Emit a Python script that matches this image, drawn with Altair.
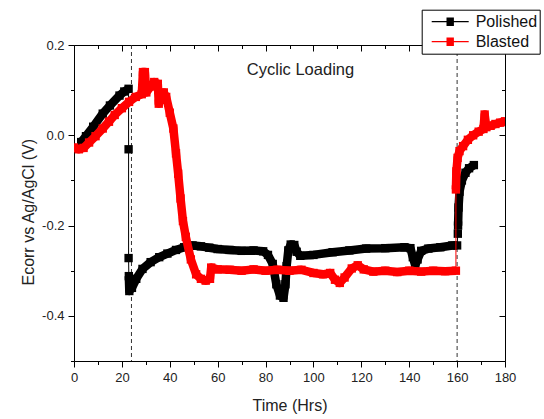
import altair as alt
import pandas as pd

FONT = "Liberation Sans"

# ---------------- data ----------------
series_names = ["Polished", "Blasted"]
series_colors = ["#000000", "#ff0000"]

polished_t = [3, 5, 8, 12, 15, 19, 21, 22.8,
              22.8,
              22.8,
              22.9, 23.1, 24.2, 26, 28.6, 32, 35.6, 39, 42.6, 46, 49.5, 53, 56.5, 60, 65, 70, 75, 79,
              81, 83, 84.5, 86, 87.5, 88.3, 88.8, 89.5, 90.5, 92, 93, 94.5, 100, 108, 115, 122, 130,
              138, 140.5, 141.5, 142.5, 143.5, 145, 148, 153, 158, 160,
              160.3,
              160.4, 160.6, 161, 162, 163.5, 165, 167]
polished_v = [-0.015, -0.002, 0.019, 0.048, 0.066, 0.088, 0.097, 0.103,
              -0.031,
              -0.272,
              -0.312, -0.345, -0.338, -0.318, -0.296, -0.281, -0.27, -0.262, -0.254, -0.248, -0.244,
              -0.246, -0.249, -0.252, -0.254, -0.256, -0.255, -0.257,
              -0.265, -0.285, -0.33, -0.355, -0.36, -0.33, -0.29, -0.255, -0.242, -0.243, -0.258,
              -0.267, -0.265, -0.259, -0.255, -0.251, -0.25,
              -0.248, -0.25, -0.27, -0.288, -0.275, -0.256, -0.251, -0.248, -0.244, -0.244,
              -0.218,
              -0.2, -0.16, -0.125, -0.1, -0.083, -0.073, -0.066]
polished_seg = [0] * 8 + [1] + [2] + [3] * 45 + [4] + [5] * 7

blasted_t = [0, 2, 4, 6.3, 9, 12, 14.6, 17, 20, 23, 25.8, 28.3, 28.8, 29.6, 30.2, 32, 33.5, 35,
             35.4, 36.3, 37.5, 38.5, 40, 41.5, 42.6, 43.5, 44.5, 45.5, 46.7, 48.8, 51, 53, 55,
             56.8, 57.3, 60, 65, 70, 75, 80, 85, 90, 95, 100, 104, 107, 109, 111, 113, 116,
             118.5, 121, 125, 130, 135, 140, 145, 150, 155, 159.5,
             159.5, 159.7, 160.2, 161, 162.5, 164.5, 166.7, 169, 171, 171.5, 172.2, 174, 176,
             178, 180]
blasted_v = [-0.027, -0.031, -0.028, -0.016, -0.002, 0.015, 0.03, 0.045, 0.06, 0.074, 0.085,
             0.091, 0.14, 0.14, 0.095, 0.108, 0.118, 0.114,
             0.07, 0.08, 0.095, 0.085, 0.05, 0.015, -0.04, -0.085, -0.14, -0.19, -0.225, -0.275,
             -0.308, -0.318, -0.322,
             -0.318, -0.293, -0.297, -0.298, -0.3, -0.297, -0.3, -0.298, -0.3, -0.298, -0.305,
             -0.308, -0.305, -0.32, -0.327, -0.315, -0.295,
             -0.288, -0.297, -0.302, -0.3, -0.303, -0.3, -0.302, -0.3, -0.301, -0.3,
             -0.12, -0.08, -0.05, -0.035, -0.024, -0.01, 0.0, 0.008, 0.014, 0.046, 0.018, 0.021,
             0.025, 0.028, 0.031]
blasted_seg = [0] * 60 + [1] * 15

event_times = [24, 160]

annotation_text = ["Cyclic Loading"]
annotation_t = [94.6]
annotation_v = [0.145]

x_ticks = list(range(0, 181, 10))
y_ticks = [-0.5, -0.4, -0.3, -0.2, -0.1, 0.0, 0.1, 0.2]


def frame(name, t, v, seg):
    return pd.DataFrame({"series": name, "t": t, "v": v, "seg": seg,
                         "idx": list(range(len(t)))})


df = pd.concat([frame("Polished", polished_t, polished_v, polished_seg),
                frame("Blasted", blasted_t, blasted_v, blasted_seg)], ignore_index=True)
events = pd.DataFrame({"t": event_times})
notes = pd.DataFrame({"label": annotation_text, "t": annotation_t, "v": annotation_v})

# ---------------- layout ----------------
W, H = 431, 316
xs = alt.Scale(domain=[0, 180], nice=False, zero=False)
ys = alt.Scale(domain=[-0.5, 0.2], nice=False, zero=False)
cs = alt.Scale(domain=series_names, range=series_colors)

major_x = "datum.value % 20 === 0"
major_y = "abs(round(datum.value * 10)) % 2 === 0"


def tick_size(test):
    return {"condition": {"test": test, "value": 6}, "value": 3.5}


axis_common = dict(grid=False, domainColor="black", domainWidth=1,
                   tickColor="black", tickWidth=1)

x_bottom = alt.Axis(orient="bottom", values=x_ticks, tickSize=tick_size(major_x),
                    labelExpr=f"{major_x} ? datum.label : ''",
                    labelFont=FONT, labelFontSize=13, labelColor="#222", labelPadding=4,
                    labelFlush=False, labelOverlap=False,
                    title="Time (Hrs)", titleFont=FONT, titleFontSize=16,
                    titleFontWeight="normal", titleColor="#222",
                    titleX=W / 2, titleY=44, titleBaseline="middle", titleAlign="center",
                    **axis_common)
x_top = alt.Axis(orient="bottom", offset=-H, values=x_ticks, tickSize=tick_size(major_x),
                 labels=False, title=None, **axis_common)
y_left = alt.Axis(orient="left", values=y_ticks, tickSize=tick_size(major_y), format=".1f",
                  labelExpr=f"{major_y} ? replace(datum.label, '\u2212', '-') : ''",
                  labelFont=FONT, labelFontSize=13, labelColor="#222", labelPadding=4,
                  labelFlush=False, labelOverlap=False,
                  title="Ecorr vs Ag/AgCl (V)", titleFont=FONT, titleFontSize=16,
                  titleFontWeight="normal", titleColor="#222", titleAngle=270,
                  titleX=-45.5, titleY=166.7, titleBaseline="middle", titleAlign="center",
                  **axis_common)
y_right = alt.Axis(orient="left", offset=-W, values=y_ticks, tickSize=tick_size(major_y),
                   labels=False, title=None, **axis_common)

sq = 0.2
hatch = "".join(f"M-{sq},{y / 100:.3f}H{sq}" for y in range(-20, 21, 5))
legend_symbol = "M-1,0H1" + hatch

legend = alt.Legend(title=None, orient="none", legendX=347.7, legendY=-35.3,
                    symbolType=legend_symbol, symbolSize=1369, symbolStrokeWidth=1.2,
                    clipHeight=20, rowPadding=0, padding=2, symbolOffset=7, labelOffset=6,
                    labelFont=FONT, labelFontSize=16, labelColor="#111",
                    labelExpr="datum.label + '\u00a0\u00a0\u00a0'",
                    strokeColor="black", fillColor="white", cornerRadius=0)

base = alt.Chart(df)


def series_layers(name, first):
    sub = base.transform_filter(alt.datum.series == name)
    thin = sub.mark_line(strokeWidth=1, clip=True).encode(
        x=alt.X("t:Q", scale=xs, axis=x_bottom if first else None),
        y=alt.Y("v:Q", scale=ys, axis=y_left if first else None),
        color=alt.Color("series:N", scale=cs, legend=legend if first else None),
        order="idx:Q")
    thick = sub.mark_line(strokeWidth=8.5, strokeJoin="round", clip=True).encode(
        x=alt.X("t:Q", scale=xs, axis=x_top if first else None),
        y=alt.Y("v:Q", scale=ys, axis=y_right if first else None),
        color=alt.Color("series:N", scale=cs, legend=None),
        detail="seg:N",
        order="idx:Q")
    pts = sub.mark_square(size=70, opacity=1, clip=True).encode(
        x=alt.X("t:Q", scale=xs, axis=None),
        y=alt.Y("v:Q", scale=ys, axis=None),
        color=alt.Color("series:N", scale=cs, legend=None))
    return [thin, thick, pts]


rules = alt.Chart(events).mark_rule(strokeDash=[4, 3], color="#333", strokeWidth=1).encode(
    x=alt.X("t:Q", scale=xs, axis=None))

text = alt.Chart(notes).mark_text(font=FONT, fontSize=16.5, color="#222", align="center",
                                  baseline="middle").encode(
    x=alt.X("t:Q", scale=xs, axis=None),
    y=alt.Y("v:Q", scale=ys, axis=None),
    text="label:N")

chart = alt.layer(
    rules,
    *series_layers("Polished", True),
    *series_layers("Blasted", False),
    text,
).resolve_axis(x="independent", y="independent").properties(
    width=W, height=H,
    autosize=alt.AutoSizeParams(type="none"),
    padding={"left": 74, "top": 45, "right": 39, "bottom": 58},
).configure_view(stroke=None)

chart.save("out.html", embed_options={"renderer": "svg", "actions": False})
